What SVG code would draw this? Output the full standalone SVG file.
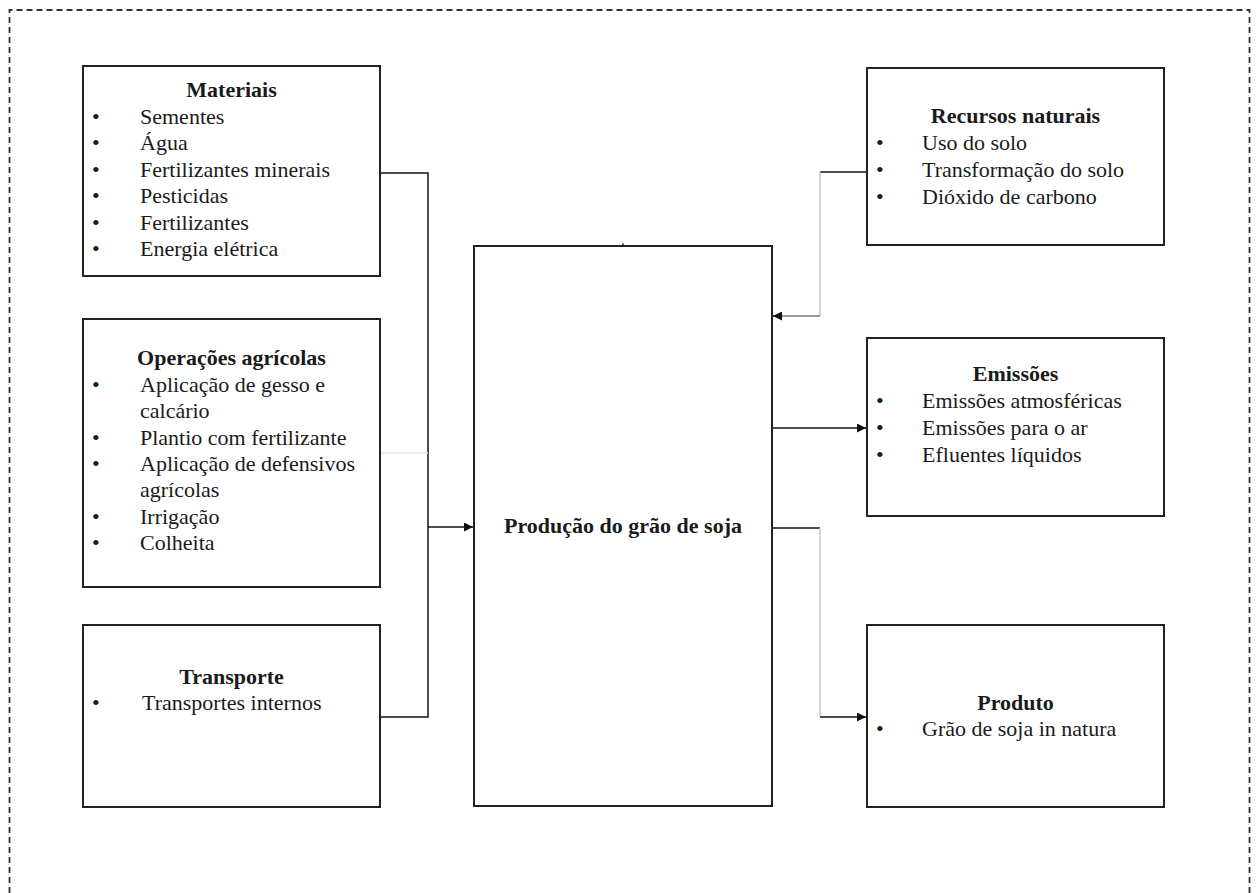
<svg xmlns="http://www.w3.org/2000/svg" width="1256" height="893" viewBox="0 0 1256 893">
  <defs>
    <style>
      .box { fill: #ffffff; stroke: #222222; stroke-width: 2; }
      .frame { fill: none; stroke: #333333; stroke-width: 1.8; stroke-dasharray: 6 4; }
      .wire { fill: none; stroke: #111111; stroke-width: 1.5; }
      .wire-light { fill: none; stroke: #c4c4c4; stroke-width: 1.5; }
      .wire-faint { fill: none; stroke: #e4e4e4; stroke-width: 1.5; }
      .wire-mid { fill: none; stroke: #9a9a9a; stroke-width: 2; }
      text { font-family: "Liberation Serif", "Times New Roman", serif; font-size: 22px; fill: #1a1a1a; }
      .title { font-weight: bold; text-anchor: middle; }
    </style>
    <marker id="arrow" viewBox="0 0 10 10" refX="10" refY="5" markerWidth="9" markerHeight="9" markerUnits="userSpaceOnUse" orient="auto">
      <path d="M0,0 L10,5 L0,10 Z" fill="#111111"/>
    </marker>
  </defs>

  <!-- system boundary (open at the bottom) -->
  <path class="frame" d="M9.5,893 L9.5,10 L1249.5,10 L1249.5,893"/>

  <!-- connectors -->
  <g id="connectors">
    <path class="wire" d="M380,173 L428,173 L428,717 L380,717"/>
    <path class="wire-faint" d="M380,453 L428,453"/>
    <path class="wire" d="M428,527 L473,527" marker-end="url(#arrow)"/>
    <path class="wire" d="M867,172 L820,172"/>
    <path class="wire-light" d="M820,172 L820,316"/>
    <path class="wire-mid" d="M820,316 L782,316"/>
    <path class="wire" d="M782,316 L773,316" marker-end="url(#arrow)"/>
    <path class="wire" d="M772,428 L866,428" marker-end="url(#arrow)"/>
    <path class="wire" d="M772,528 L820,528"/>
    <path class="wire-light" d="M820,528 L820,717"/>
    <path class="wire" d="M820,717 L866,717" marker-end="url(#arrow)"/>
    <path class="wire" d="M623,243.5 L623,246"/>
  </g>

  <!-- inputs -->
  <g id="materiais">
    <rect class="box" x="83" y="66" width="297" height="210"/>
    <text class="title" x="231.5" y="97">Materiais</text>
    <text x="92" y="123.5">•</text><text x="140" y="123.5">Sementes</text>
    <text x="92" y="150">•</text><text x="140" y="150">Água</text>
    <text x="92" y="176.5">•</text><text x="140" y="176.5">Fertilizantes minerais</text>
    <text x="92" y="203">•</text><text x="140" y="203">Pesticidas</text>
    <text x="92" y="229.5">•</text><text x="140" y="229.5">Fertilizantes</text>
    <text x="92" y="256">•</text><text x="140" y="256">Energia elétrica</text>
  </g>

  <g id="operacoes">
    <rect class="box" x="83" y="319" width="297" height="268"/>
    <text class="title" x="231.5" y="365">Operações agrícolas</text>
    <text x="92" y="391.5">•</text><text x="140" y="391.5">Aplicação de gesso e</text>
    <text x="140" y="418">calcário</text>
    <text x="92" y="444.5">•</text><text x="140" y="444.5">Plantio com fertilizante</text>
    <text x="92" y="471">•</text><text x="140" y="471">Aplicação de defensivos</text>
    <text x="140" y="497">agrícolas</text>
    <text x="92" y="523.5">•</text><text x="140" y="523.5">Irrigação</text>
    <text x="92" y="550">•</text><text x="140" y="550">Colheita</text>
  </g>

  <g id="transporte">
    <rect class="box" x="83" y="625" width="297" height="182"/>
    <text class="title" x="231.5" y="684">Transporte</text>
    <text x="92" y="710">•</text><text x="142" y="710">Transportes internos</text>
  </g>

  <!-- process -->
  <g id="producao">
    <rect class="box" x="474" y="246" width="298" height="560"/>
    <text class="title" x="623" y="533">Produção do grão de soja</text>
  </g>

  <!-- outputs and resources -->
  <g id="recursos">
    <rect class="box" x="867" y="68" width="297" height="177"/>
    <text class="title" x="1015.5" y="123">Recursos naturais</text>
    <text x="876" y="150">•</text><text x="922" y="150">Uso do solo</text>
    <text x="876" y="177">•</text><text x="922" y="177">Transformação do solo</text>
    <text x="876" y="204">•</text><text x="922" y="204">Dióxido de carbono</text>
  </g>

  <g id="emissoes">
    <rect class="box" x="867" y="338" width="297" height="178"/>
    <text class="title" x="1015.5" y="381">Emissões</text>
    <text x="876" y="408">•</text><text x="922" y="408">Emissões atmosféricas</text>
    <text x="876" y="435">•</text><text x="922" y="435">Emissões para o ar</text>
    <text x="876" y="462">•</text><text x="922" y="462">Efluentes líquidos</text>
  </g>

  <g id="produto">
    <rect class="box" x="867" y="625" width="297" height="182"/>
    <text class="title" x="1015.5" y="710">Produto</text>
    <text x="876" y="736">•</text><text x="922" y="736">Grão de soja in natura</text>
  </g>
</svg>
